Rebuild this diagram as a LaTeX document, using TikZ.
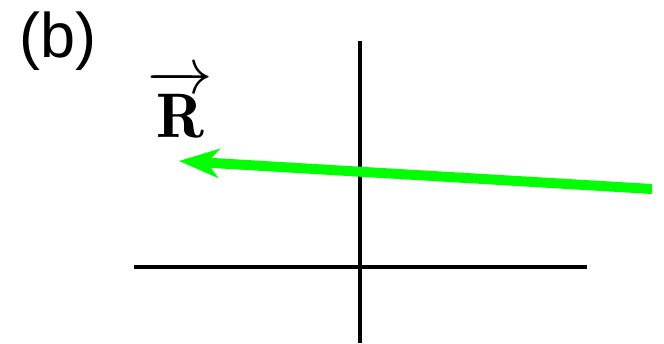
\documentclass[tikz,border=0pt]{standalone}
\usepackage{fontspec}
\newfontfamily\arialfont{Liberation Sans}
\usetikzlibrary{arrows.meta}
\definecolor{vgreen}{RGB}{0,255,0}
\begin{document}
\begin{tikzpicture}[x=1pt,y=-1pt,
  axis/.style={line width=4pt,black},
  vec/.style={line width=10pt,vgreen,-{Stealth[length=40pt,width=29pt,inset=12pt]}}]
\useasboundingbox (0,0) rectangle (664,344);
\coordinate (vtop) at (360,41);
\coordinate (vbot) at (360,343);
\coordinate (hl) at (134,267);
\coordinate (hr) at (587,267);
\coordinate (gs) at (652,189);
\coordinate (ge) at (179,161);
\draw[axis] (vtop) -- (vbot);
\draw[axis] (hl) -- (hr);
\draw[vec] (gs) -- (ge);
\node[anchor=center,inner sep=0pt] (lab) at (58,41) {\fontsize{63}{70}\selectfont\arialfont (b)};
\node[anchor=base,inner sep=0pt,scale=3.15] (rlab) at (180,138) {\fontsize{20}{24}\selectfont$\overrightarrow{\mathbf{R}\rule{0pt}{15pt}}$};
\end{tikzpicture}
\end{document}
